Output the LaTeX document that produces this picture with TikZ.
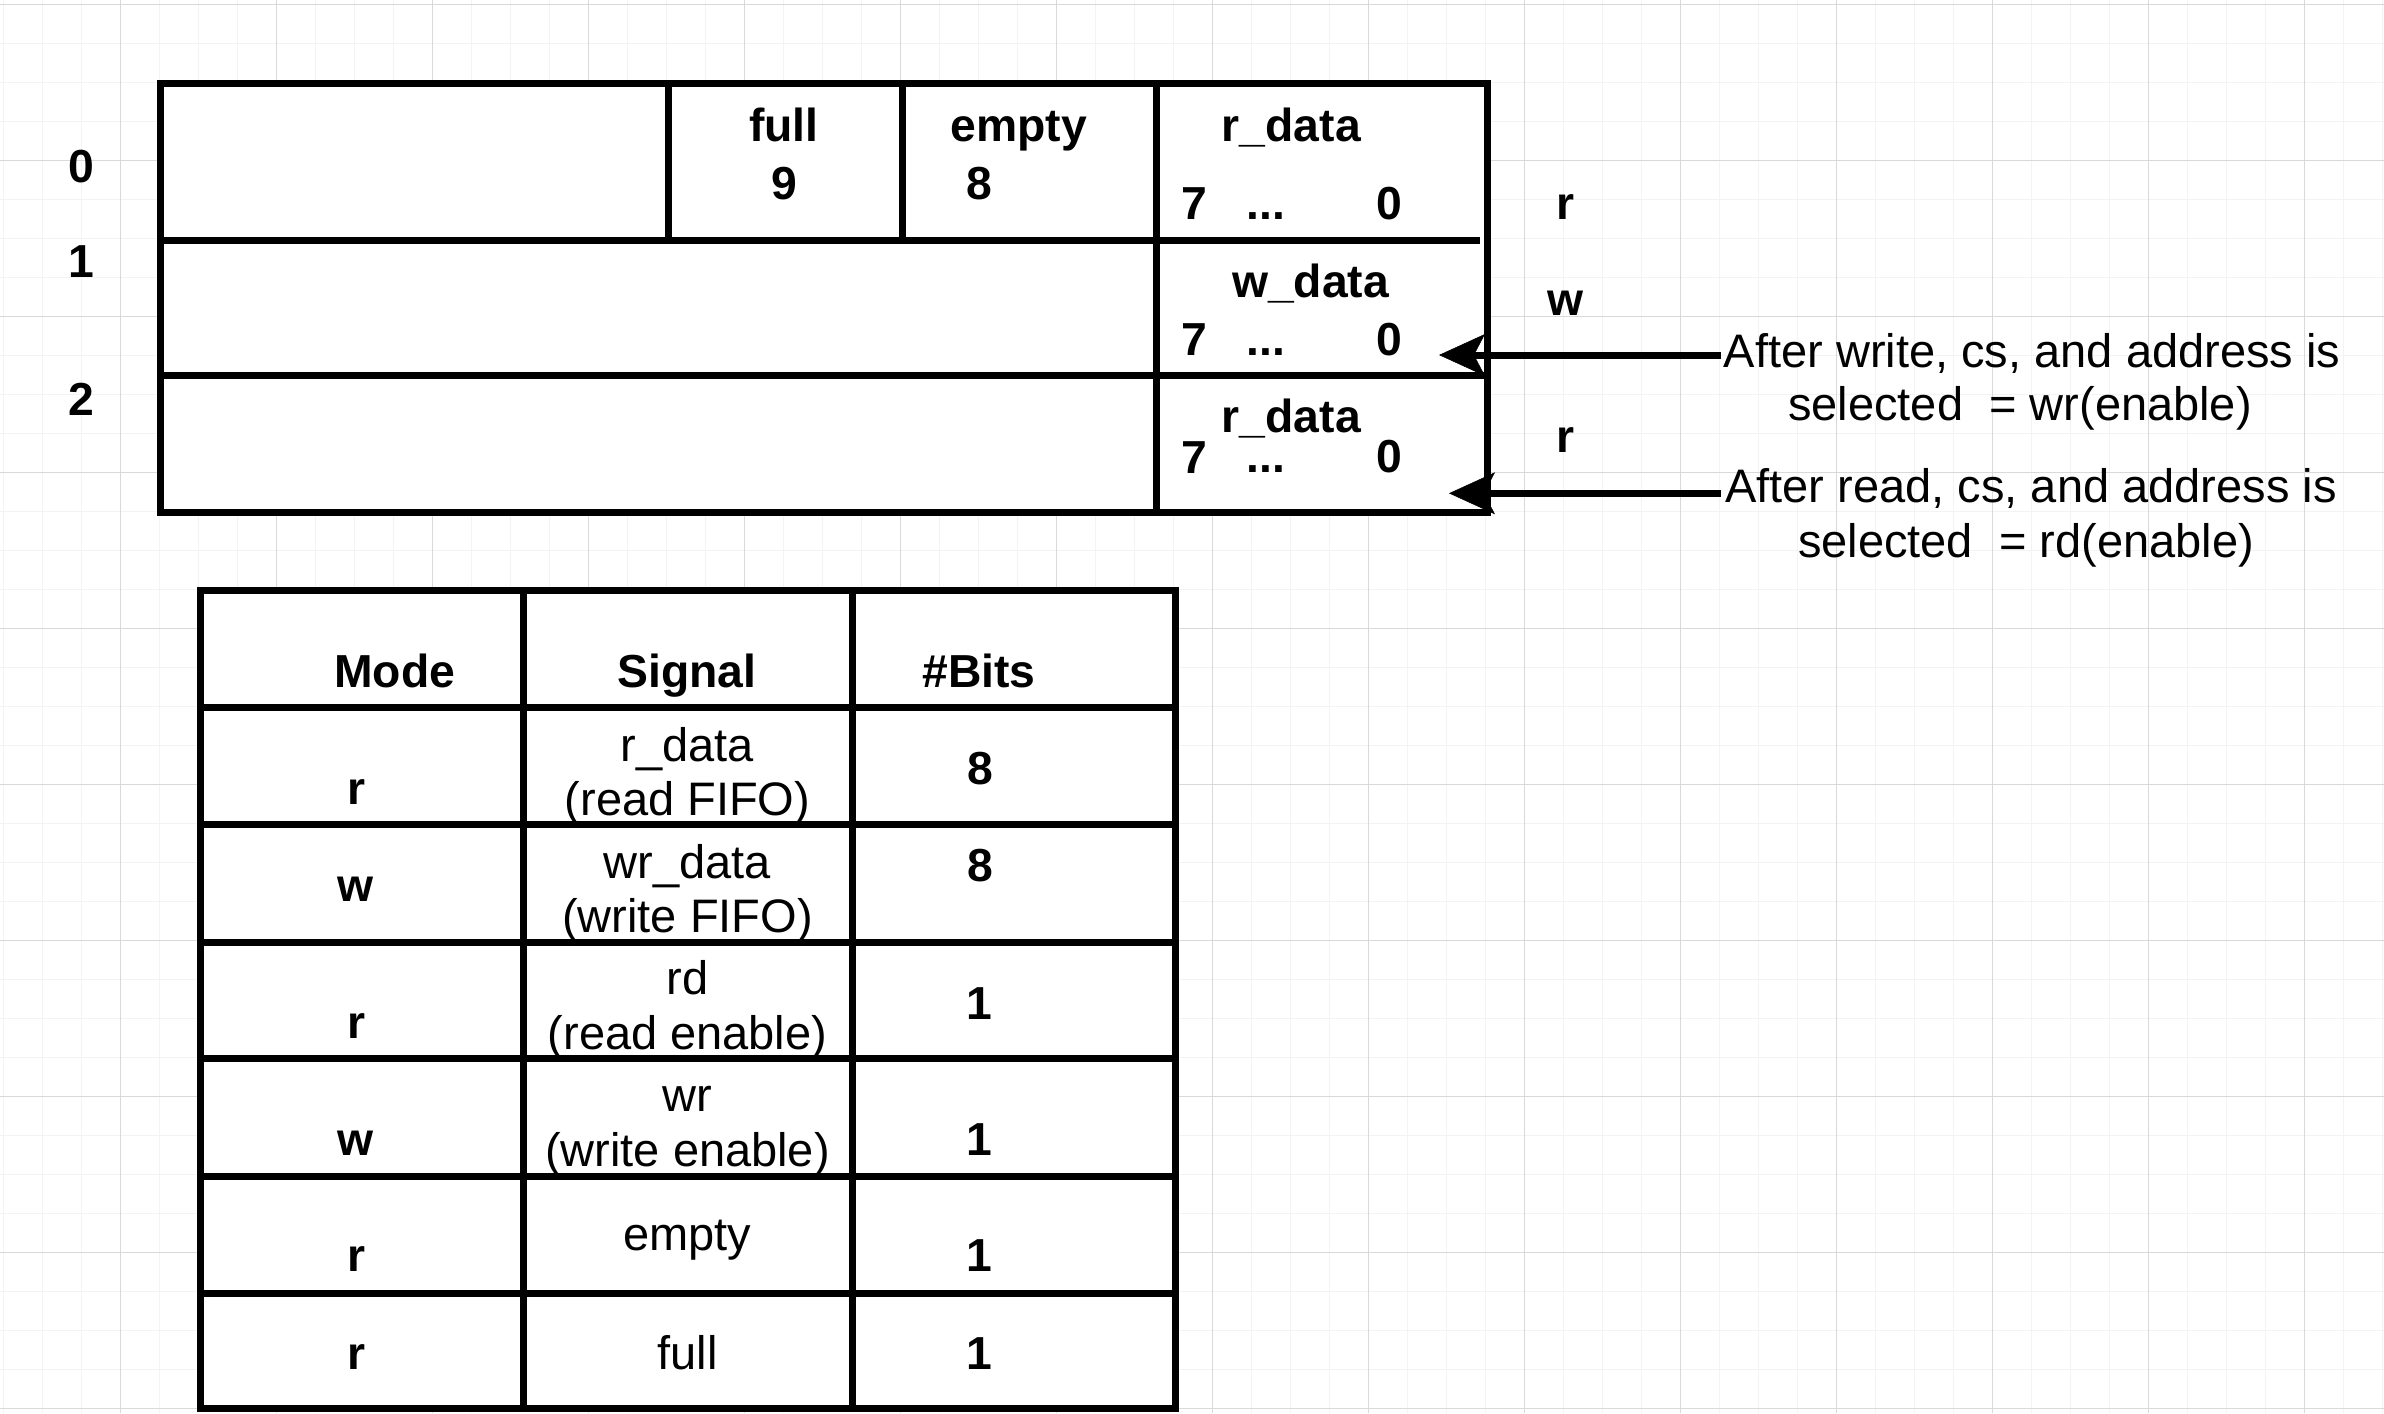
\documentclass[tikz,border=0pt]{standalone}
\usepackage{fontspec}
\setmainfont{Liberation Sans}
\usetikzlibrary{arrows.meta}
\tikzset{
  gminor/.style={draw={rgb,255:red,243;green,243;blue,243}, line width=1.3pt},
  gmajor/.style={draw={rgb,255:red,217;green,217;blue,217}, line width=1pt},
  box/.style={line width=7pt, draw=black, fill=white, line join=miter},
  rule/.style={line width=7pt, draw=black},
  txt/.style={inner sep=0pt, outer sep=0pt, anchor=base, font=\fontsize{47}{56}\selectfont},
  btxt/.style={txt, font=\fontsize{46.3}{55}\selectfont\bfseries},
  arr/.style={line width=7pt, -{Stealth[length=46pt,width=42pt,inset=11pt,line width=0.5pt]}}
}
\begin{document}
\begin{tikzpicture}[x=1pt,y=-1pt]
\useasboundingbox (0,0) rectangle (2384,1413);
\fill[white] (0,0) rectangle (2384,1413);
% grid
\foreach \i in {0,...,61} \draw[gminor] ({3.3+39*\i},0) -- ({3.3+39*\i},1413);
\foreach \j in {0,...,36} \draw[gminor] (0,{4.2+39*\j}) -- (2384,{4.2+39*\j});
\foreach \i in {0,...,14} \draw[gmajor] ({120.3+156*\i},0) -- ({120.3+156*\i},1413);
\foreach \j in {0,...,9} \draw[gmajor] (0,{4.2+156*\j}) -- (2384,{4.2+156*\j});

% ---------- register ----------
\draw[box] (160.7,83.7) rectangle (1487.5,512.5);
\draw[rule] (160.7,240) -- (1479.5,240);
\draw[rule] (160.7,375.5) -- (1487.5,375.5);
\draw[rule] (1156,83.7) -- (1156,512.5);
\draw[rule] (668.2,83.7) -- (668.2,240);
\draw[rule] (902.5,83.7) -- (902.5,240);

\node[btxt] (a0) at (81.6,182) {0};
\node[btxt] (a1) at (81.6,277.6) {1};
\node[btxt] (a2) at (81.6,415.5) {2};

\node[btxt] (fullt) at (783.8,141.7) {full};
\node[btxt] (fulln) at (784.6,199.3) {9};
\node[btxt] (emptyt) at (1018.6,141.7) {empty};
\node[btxt] (emptyn) at (979.5,199.3) {8};

\node[btxt] (rd0) at (1291.3,141) {r\_data};
\node[btxt] (rd0a) at (1194,219.3) {7};
\node[btxt] (rd0b) at (1265.8,219.3) {...};
\node[btxt] (rd0c) at (1389,219.3) {0};

\node[btxt] (wd1) at (1310.5,297.3) {w\_data};
\node[btxt] (wd1a) at (1194,355) {7};
\node[btxt] (wd1b) at (1265.8,355) {...};
\node[btxt] (wd1c) at (1389,355) {0};

\node[btxt] (rd2) at (1291.3,432.7) {r\_data};
\node[btxt] (rd2a) at (1194,473.3) {7};
\node[btxt] (rd2b) at (1265.8,472.3) {...};
\node[btxt] (rd2c) at (1389,472.3) {0};

\node[btxt] (m0) at (1565,219.3) {r};
\node[btxt] (m1) at (1565,315) {w};
\node[btxt] (m2) at (1565,452.7) {r};

% arrows and notes
\node[txt] (wn1) at (2032,367) {After write, cs, and address is};
\node[txt] (wn2) at (2020,420.7) {selected\ \ = wr(enable)};
\node[txt] (rn1) at (2031,502.7) {After read, cs, and address is};
\node[txt] (rn2) at (2026,557.3) {selected\ \ = rd(enable)};
\coordinate (wstart) at (1721,355);
\coordinate (wtip) at (1439,355);
\coordinate (rstart) at (1721,493.3);
\coordinate (rtip) at (1449,493.3);
\draw[arr] (wstart) -- (wtip);
\draw[arr] (rstart) -- (rtip);

% ---------- table ----------
\draw[box] (200.8,590.7) rectangle (1175.4,1408.7);
\draw[rule] (523.5,590.7) -- (523.5,1408.7);
\draw[rule] (852,590.7) -- (852,1408.7);
\foreach \yy in {707.7,824.7,942,1058.3,1176,1293}
  \draw[rule] (200.8,\yy) -- (1175.4,\yy);

\node[btxt] (hmode) at (394.7,687.3) {Mode};
\node[btxt] (hsig) at (687,687.3) {Signal};
\node[btxt] (hbits) at (979,687.3) {\#Bits};

\node[btxt] (r1m) at (356.6,804) {r};
\node[txt] (r1s) at (687.5,761) {r\_data};
\node[txt] (r1t) at (687.5,815.7) {(read FIFO)};
\node[btxt] (r1b) at (980,784.3) {8};

\node[btxt] (r2m) at (356,901.7) {w};
\node[txt] (r2s) at (687.5,878.3) {wr\_data};
\node[txt] (r2t) at (687.5,932.7) {(write FIFO)};
\node[btxt] (r2b) at (980,881.7) {8};

\node[btxt] (r3m) at (356.6,1038.3) {r};
\node[txt] (r3s) at (687.5,994) {rd};
\node[txt] (r3t) at (687.5,1049.3) {(read enable)};
\node[btxt] (r3b) at (979,1019.3) {1};

\node[btxt] (r4m) at (356,1155) {w};
\node[txt] (r4s) at (687.5,1111.7) {wr};
\node[txt] (r4t) at (687.5,1166) {(write enable)};
\node[btxt] (r4b) at (979,1155) {1};

\node[btxt] (r5m) at (356.6,1271.7) {r};
\node[txt] (r5s) at (687.5,1250.7) {empty};
\node[btxt] (r5b) at (979,1271.7) {1};

\node[btxt] (r6m) at (356.6,1369.3) {r};
\node[txt] (r6s) at (687.5,1369.3) {full};
\node[btxt] (r6b) at (979,1369.3) {1};
\end{tikzpicture}
\end{document}
